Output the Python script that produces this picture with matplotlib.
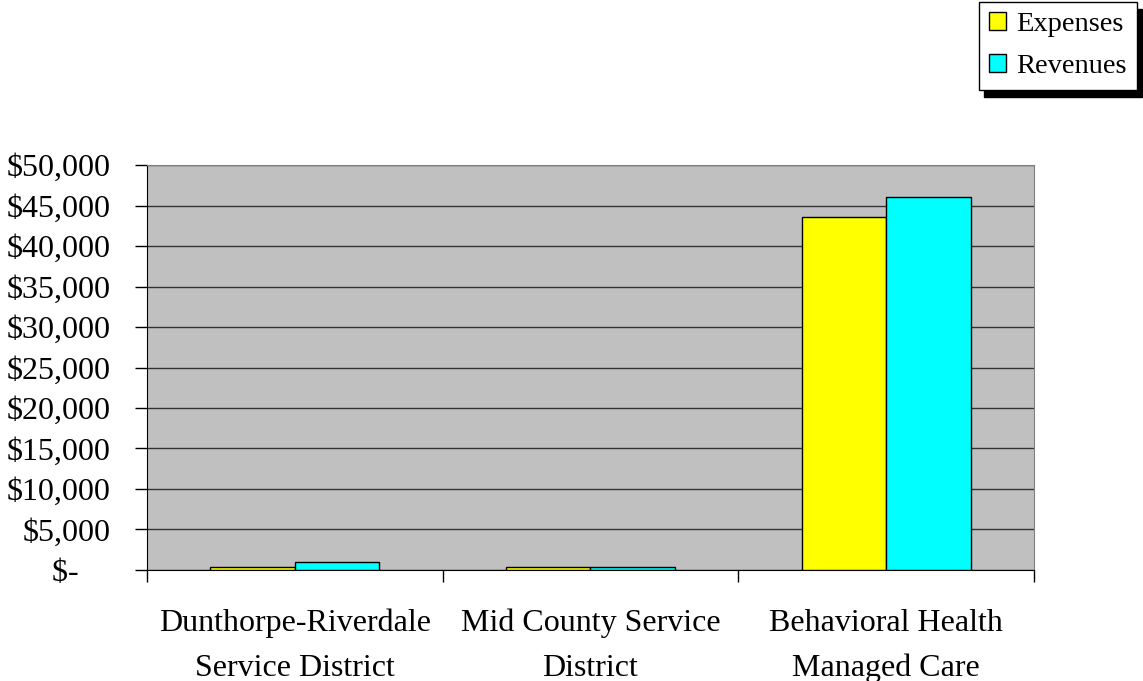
import numpy as np
import matplotlib.pyplot as plt
from matplotlib.ticker import FuncFormatter

categories = ['Dunthorpe-Riverdale\nService District', 'Mid County Service\nDistrict',
              'Behavioral Health\nManaged Care']
expenses = [400, 400, 43600]
revenues = [950, 400, 46050]

plt.rcParams['font.family'] = ['Liberation Serif', 'DejaVu Serif']

fig = plt.figure(figsize=(11.43, 6.81), dpi=100)
ax = fig.add_axes([0.1286, 0.163, 0.776, 0.5947])
ax.set_facecolor('#C0C0C0')

x = np.arange(len(categories))
w = 1 / 3.5
ax.bar(x - w / 2, expenses, w, color='#FFFF00', edgecolor='black', linewidth=1, label='Expenses', zorder=3)
ax.bar(x + w / 2, revenues, w, color='#00FFFF', edgecolor='black', linewidth=1, label='Revenues', zorder=3)

ax.set_xlim(-0.5, 2.5)
ax.set_ylim(0, 50000)
ax.set_yticks(np.arange(0, 50001, 5000))
ax.yaxis.set_major_formatter(FuncFormatter(lambda v, p: '$-    ' if v == 0 else '${:,.0f}'.format(v)))
ax.yaxis.grid(True, color='#333333', linewidth=1, zorder=0)
ax.set_axisbelow(True)

# ticks between categories, labels centered
ax.set_xticks([-0.5, 0.5, 1.5, 2.5])
ax.set_xticklabels([])
ax.set_xticks(x, minor=True)
ax.set_xticklabels(categories, minor=True, fontsize=23, linespacing=1.7)
ax.tick_params(axis='x', which='major', direction='out', length=8.5, width=1)
ax.tick_params(axis='x', which='minor', length=0, pad=28)
ax.tick_params(axis='y', direction='out', length=8.5, width=1, labelsize=23, pad=18)

for s in ['top', 'right']:
    ax.spines[s].set_color('#808080')
for s in ['left', 'bottom']:
    ax.spines[s].set_color('black')

leg = fig.legend(loc='upper right', bbox_to_anchor=(0.997, 1.0015), fontsize=20.5, frameon=True,
                 fancybox=False, shadow={'color': 'black', 'alpha': 1, 'ox': 4, 'oy': -5},
                 edgecolor='black', handlelength=0.6, handleheight=0.6, handletextpad=0.35,
                 borderpad=0.36, borderaxespad=0.1, labelspacing=0.6)
leg.get_frame().set_linewidth(1)

fig.savefig('out.png', dpi=100)
